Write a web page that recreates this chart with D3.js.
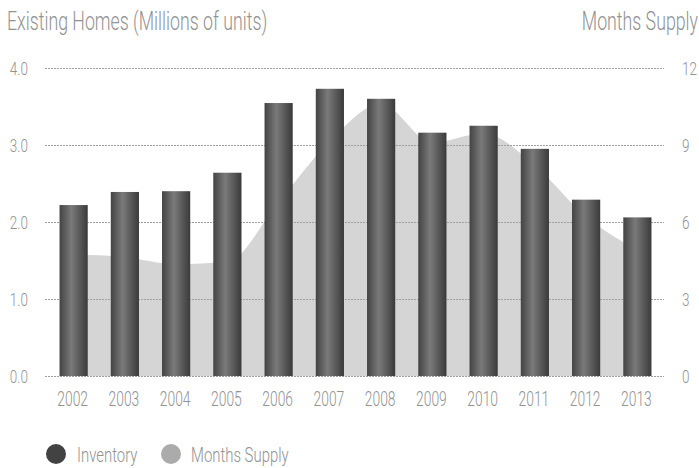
<!DOCTYPE html>
<html>
<head>
<meta charset="utf-8">
<script src="https://cdn.jsdelivr.net/npm/d3@7"></script>
<style>
  html, body { margin: 0; padding: 0; background: #fff; }
  svg text { font-family: Roboto, "DejaVu Sans Condensed", sans-serif; font-weight: 300; fill: #929292; }
</style>
</head>
<body>
<div id="chart"></div>
<script>
(function() {
  var years = ['2002', '2003', '2004', '2005', '2006', '2007', '2008', '2009', '2010', '2011', '2012', '2013'];
  var inventory = [2.22, 2.39, 2.40, 2.64, 3.545, 3.73, 3.60, 3.16, 3.25, 2.95, 2.29, 2.06];
  var monthsSupply = [4.73, 4.63, 4.36, 4.45, 6.78, 9.15, 10.6, 9.1, 9.45, 8.2, 6.2, 4.9];
  var leftTicks = [0, 1, 2, 3, 4];
  var rightTicks = [0, 3, 6, 9, 12];

  var W = 699, H = 468, squeeze = 0.71;
  var svg, defs, grad, x, yL, yR, area, g, legend, squish;

  svg = d3.select('#chart').append('svg').attr('width', W).attr('height', H);

  // condensed look: pull the glyphs in horizontally
  squish = function(sel, px, py) {
    return sel.attr('transform', 'translate(' + px + ',' + py + ') scale(' + squeeze + ',1)');
  };

  x = d3.scaleBand().domain(years).range([48, 663]).paddingInner(0.45).paddingOuter(0.225);
  yL = d3.scaleLinear().domain([0, 4]).range([376, 68]);
  yR = d3.scaleLinear().domain([0, 12]).range([376, 68]);

  defs = svg.append('defs');
  grad = defs.append('linearGradient').attr('id', 'barGrad').attr('x1', '0%').attr('x2', '100%').attr('y1', '0%').attr('y2', '0%');
  grad.append('stop').attr('offset', '0%').attr('stop-color', '#434343');
  grad.append('stop').attr('offset', '42%').attr('stop-color', '#7a7a7a');
  grad.append('stop').attr('offset', '100%').attr('stop-color', '#3a3a3a');

  // months supply area
  area = d3.area()
    .x(function(d, i) { return x(years[i]) + x.bandwidth() / 2; })
    .y0(yR(0))
    .y1(function(d) { return yR(d); })
    .curve(d3.curveMonotoneX);
  svg.append('path').datum(monthsSupply).attr('d', area).attr('fill', '#d5d5d5');

  // grid
  svg.append('g').selectAll('line').data(leftTicks).enter().append('line')
    .attr('x1', 45).attr('x2', 664)
    .attr('y1', function(d) { return Math.round(yL(d)) + 0.5; })
    .attr('y2', function(d) { return Math.round(yL(d)) + 0.5; })
    .attr('stroke', '#a0a0a0').attr('stroke-width', 1).attr('stroke-dasharray', '2,1');

  // bars
  svg.append('g').selectAll('rect').data(inventory).enter().append('rect')
    .attr('x', function(d, i) { return x(years[i]); })
    .attr('width', x.bandwidth())
    .attr('y', function(d) { return yL(d); })
    .attr('height', function(d) { return yL(0) - yL(d); })
    .attr('fill', 'url(#barGrad)');

  // left axis labels
  g = svg.append('g');
  g.selectAll('text').data(leftTicks).enter().append('text')
    .each(function(d) { squish(d3.select(this), 28, yL(d) + 7); })
    .attr('text-anchor', 'end').style('font-size', '19px')
    .text(function(d) { return d3.format('.1f')(d); });

  // right axis labels
  g = svg.append('g');
  g.selectAll('text').data(rightTicks).enter().append('text')
    .each(function(d) { squish(d3.select(this), 682, yR(d) + 7); })
    .attr('text-anchor', 'start').style('font-size', '19px')
    .text(function(d) { return d; });

  // x labels
  g = svg.append('g');
  g.selectAll('text').data(years).enter().append('text')
    .each(function(d) { squish(d3.select(this), x(d) + x.bandwidth() / 2 - 1, 406); })
    .attr('text-anchor', 'middle').style('font-size', '19.5px')
    .text(function(d) { return d; });

  // titles
  squish(svg.append('text'), 7, 30).style('font-size', '25px').text('Existing Homes (Millions of units)');
  squish(svg.append('text'), 698, 30).attr('text-anchor', 'end').style('font-size', '25px').text('Months Supply');

  // legend
  legend = svg.append('g');
  legend.append('circle').attr('cx', 56).attr('cy', 454).attr('r', 10).attr('fill', '#424242');
  squish(legend.append('text'), 77, 462).style('font-size', '21px').text('Inventory');
  legend.append('circle').attr('cx', 171).attr('cy', 454).attr('r', 10).attr('fill', '#ababab');
  squish(legend.append('text'), 191, 462).style('font-size', '21px').text('Months Supply');
})();
</script>
</body>
</html>
